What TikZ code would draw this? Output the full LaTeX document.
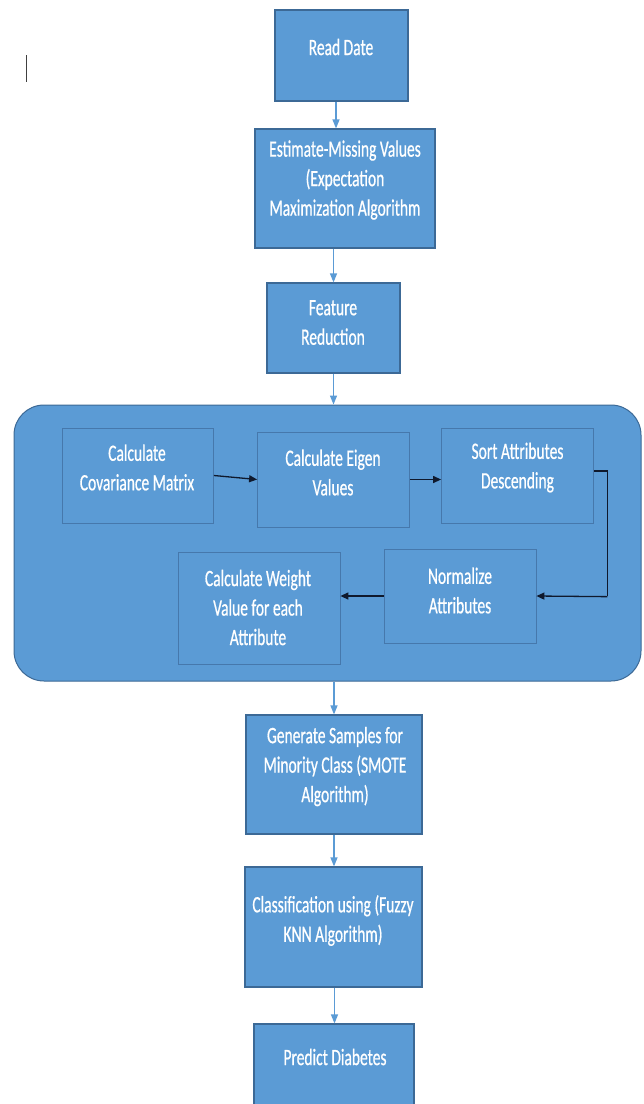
\documentclass[tikz,border=0pt]{standalone}
\usepackage{fontspec}
\newfontfamily\boxfont{Carlito}[FakeStretch=0.66,FakeBold=0.6]
\usetikzlibrary{arrows.meta,calc}
\definecolor{boxblue}{RGB}{91,155,213}
\definecolor{boxedge}{RGB}{60,105,150}
\definecolor{inneredge}{RGB}{70,120,172}
\definecolor{arrowblue}{RGB}{91,155,213}
\definecolor{darkarrow}{RGB}{15,25,45}
\begin{document}
\begin{tikzpicture}[x=1pt,y=-1pt,
  box/.style={draw=boxedge, line width=1.2pt, fill=boxblue, inner sep=0pt},
  innerbox/.style={draw=inneredge, line width=0.8pt, fill=boxblue, inner sep=0pt},
  txt/.style={text=white, font=\boxfont\fontsize{23.5}{29.5}\selectfont, align=center, inner sep=0pt},
  flow/.style={draw=arrowblue, line width=1.2pt, -{Triangle[length=9pt,width=7pt]}},
  inarrow/.style={draw=darkarrow, line width=1.3pt, -{Triangle[length=8pt,width=7pt]}},
  panel/.style={draw=boxedge, line width=1pt, fill=boxblue, rounded corners=30pt, inner sep=0pt}
]
\useasboundingbox (0,0) rectangle (644,1104);
\fill[white] (0,0) rectangle (644,1104);

% stray text cursor
\draw[black!75, line width=1pt] (26.5,55) -- (26.5,82);

% main column
\node[box, minimum width=133pt, minimum height=91pt] (rd) at (341.5,55.5) {};
\node[txt] (trd) at (341,47) {Read Date};

\node[box, minimum width=180pt, minimum height=119pt] (em) at (345,188.5) {};
\node[txt] (tem) at (345,180) {Estimate-Missing Values\\(Expectation\\Maximization Algorithm};

\node[box, minimum width=133pt, minimum height=90pt] (fr) at (333.5,328) {};
\node[txt] (tfr) at (333,322.5) {Feature\\Reduction};

% panel
\node[panel, minimum width=627pt, minimum height=276pt] (pca) at (327.5,543) {};

\node[innerbox, minimum width=151.5pt, minimum height=95pt] (cov) at (137.75,475.5) {};
\node[txt] (tcov) at (137,467.5) {Calculate\\Covariance Matrix};

\node[innerbox, minimum width=152pt, minimum height=95pt] (eig) at (333.5,479.5) {};
\node[txt] (teig) at (333,472.5) {Calculate Eigen\\Values};

\node[innerbox, minimum width=152pt, minimum height=95pt] (srt) at (517.5,475.5) {};
\node[txt] (tsrt) at (517.5,467.5) {Sort Attributes\\Descending};

\node[innerbox, minimum width=152pt, minimum height=94pt] (nrm) at (460,596) {};
\node[txt] (tnrm) at (460,590.5) {Normalize\\Attributes};

\node[innerbox, minimum width=162pt, minimum height=112pt] (wgt) at (259,608) {};
\node[txt] (twgt) at (258,607.5) {Calculate Weight\\Value for each\\Attribute};

% lower column
\node[box, minimum width=176pt, minimum height=119pt] (smt) at (334,774.5) {};
\node[txt] (tsmt) at (335,766.5) {Generate Samples for\\Minority Class (SMOTE\\Algorithm)};

\node[box, minimum width=177pt, minimum height=120pt] (fzy) at (333.5,927) {};
\node[txt] (tfzy) at (333,920.5) {Classification using (Fuzzy\\KNN Algorithm)};

\node[box, minimum width=160pt, minimum height=86pt] (prd) at (334,1067) {};
\node[txt] (tprd) at (335,1057) {Predict Diabetes};

% main flow arrows
\draw[flow] ([xshift=-5.5pt]rd.south) -- ([xshift=-5.5pt]rd.south |- em.north);
\draw[flow] (em.south -| fr.north) -- (fr.north);
\draw[flow] (fr.south) -- (fr.south |- pca.north);
\draw[flow] (smt.north |- pca.south) -- (smt.north);
\draw[flow] (smt.south) -- (smt.south |- fzy.north);
\draw[flow] ([xshift=1pt]fzy.south) -- ([xshift=1pt]fzy.south |- prd.north);

% inner arrows
\draw[inarrow] (cov.east) -- (eig.west);
\draw[inarrow] (eig.east) -- (eig.east -| srt.west);
\draw[inarrow, -] ([yshift=4.5pt]srt.east) -- ++(13.5,0) coordinate (bend) -- (bend |- nrm.east);
\draw[inarrow] ([yshift=-0.65pt]bend |- nrm.east) -- (nrm.east);
\draw[inarrow] (nrm.west) -- (nrm.west -| wgt.east);
\end{tikzpicture}
\end{document}
